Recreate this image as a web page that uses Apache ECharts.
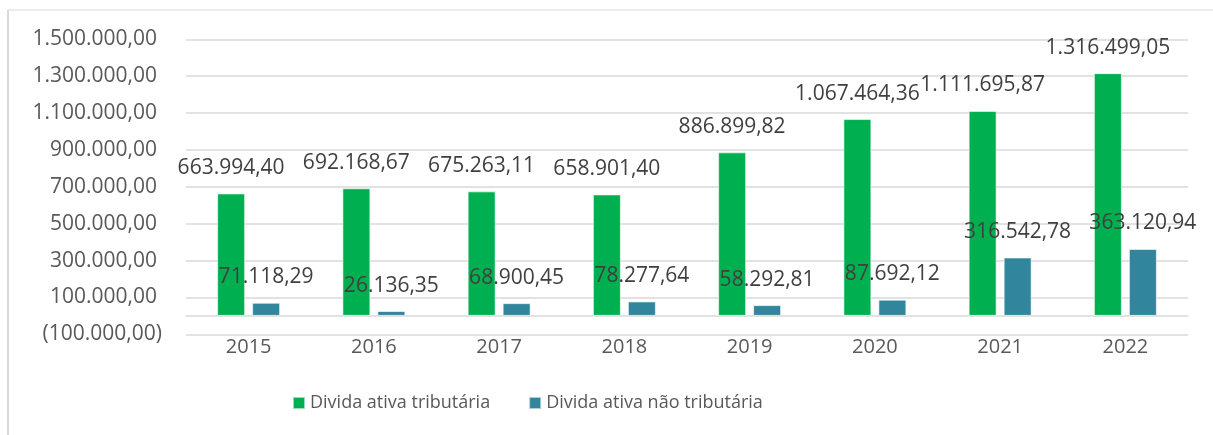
<!DOCTYPE html>
<html>
<head>
<meta charset="utf-8">
<script src="https://cdn.jsdelivr.net/npm/echarts@6/dist/echarts.min.js"></script>
<style>
  html, body { margin: 0; padding: 0; background: #fff; }
  #chart { width: 1213px; height: 435px; }
</style>
</head>
<body>
<div id="chart"></div>
<script>
const YEARS = ['2015', '2016', '2017', '2018', '2019', '2020', '2021', '2022']
const TRIBUTARIA = [663994.40, 692168.67, 675263.11, 658901.40, 886899.82, 1067464.36, 1111695.87, 1316499.05]
const NAO_TRIBUTARIA = [71118.29, 26136.35, 68900.45, 78277.64, 58292.81, 87692.12, 316542.78, 363120.94]
const Y_TICKS = [-100000, 100000, 300000, 500000, 700000, 900000, 1100000, 1300000, 1500000]

const GREEN = '#00B050'
const TEAL = '#31859C'
const GRID_COLOR = '#d9d9d9'
const FONT = '"Open Sans", "Noto Sans", sans-serif'

// pt-BR style: 1.234.567,89, negatives in parentheses
function fmtBR(v) {
  const neg = v < 0
  const parts = Math.abs(v).toFixed(2).split('.')
  const intPart = parts[0].replace(/\B(?=(\d{3})+(?!\d))/g, '.')
  return neg ? `(${intPart},${parts[1]})` : `${intPart},${parts[1]}`
}

const chart = echarts.init(document.getElementById('chart'), null, { renderer: 'canvas' })

const labelStyle = {
  show: true,
  position: 'top',
  distance: 15,
  fontFamily: FONT,
  fontSize: 21,
  color: '#404040',
  formatter: (p) => fmtBR(p.value)
}

chart.setOption({
  backgroundColor: '#fff',
  animation: false,
  textStyle: { fontFamily: FONT },
  grid: { left: 186, right: 25, top: 39.3, bottom: 100.7, containLabel: false },
  graphic: [
    {
      type: 'line',
      shape: { x1: 7.5, y1: 10, x2: 1213, y2: 10 },
      style: { stroke: GRID_COLOR, lineWidth: 1 },
      silent: true
    },
    {
      type: 'line',
      shape: { x1: 8, y1: 10, x2: 8, y2: 435 },
      style: { stroke: GRID_COLOR, lineWidth: 2 },
      silent: true
    }
  ],
  legend: {
    bottom: 18,
    left: 287,
    itemWidth: 12,
    itemHeight: 12,
    itemGap: 38,
    icon: 'rect',
    textStyle: { fontFamily: FONT, fontSize: 18, color: '#595959' },
    data: ['Divida ativa tributária', 'Divida ativa não tributária']
  },
  xAxis: {
    type: 'category',
    data: YEARS,
    axisLine: { show: true, onZero: true, lineStyle: { color: GRID_COLOR, width: 1.5 } },
    axisTick: { show: false },
    axisLabel: { margin: 3, fontFamily: FONT, fontSize: 20, color: '#595959' }
  },
  yAxis: {
    type: 'value',
    min: -100000,
    max: 1500000,
    interval: 100000,
    axisLine: { show: false },
    axisTick: { show: false, customValues: Y_TICKS },
    splitLine: { show: true, lineStyle: { color: GRID_COLOR, width: 1.5 } },
    axisLabel: {
      customValues: Y_TICKS,
      margin: 24,
      fontFamily: FONT,
      fontSize: 21,
      color: '#595959',
      formatter: (v) => (v < 0 ? fmtBR(v) : `{p|${fmtBR(v)}}`),
      rich: { p: { fontFamily: FONT, fontSize: 21, color: '#595959', padding: [0, 5, 0, 0] } }
    }
  },
  series: [
    {
      name: 'Divida ativa tributária',
      type: 'bar',
      data: TRIBUTARIA,
      barWidth: 28,
      barGap: '25%',
      itemStyle: { color: GREEN, borderColor: 'rgba(255,255,255,0.6)', borderWidth: 1 },
      label: labelStyle
    },
    {
      name: 'Divida ativa não tributária',
      type: 'bar',
      data: NAO_TRIBUTARIA,
      barWidth: 28,
      barGap: '25%',
      itemStyle: { color: TEAL, borderColor: 'rgba(255,255,255,0.6)', borderWidth: 1 },
      label: labelStyle
    }
  ]
})
</script>
</body>
</html>
